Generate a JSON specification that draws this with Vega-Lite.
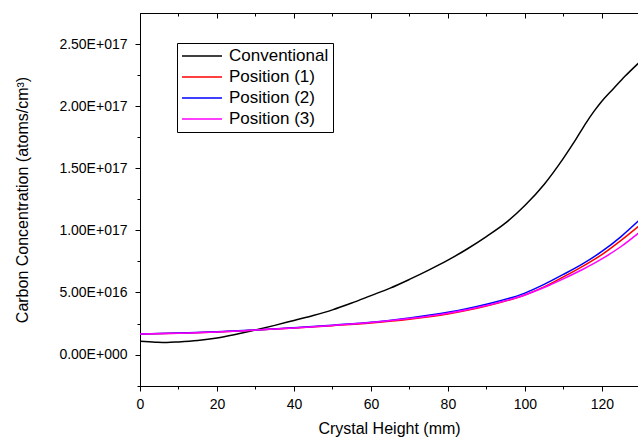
{
  "$schema": "https://vega.github.io/schema/vega-lite/v6.json",
  "width": 498,
  "height": 373,
  "autosize": {"type": "none"},
  "padding": {"left": 140, "top": 13, "right": 0, "bottom": 54},
  "background": "white",
  "config": {
    "view": {"stroke": "black", "strokeWidth": 1},
    "font": "Liberation Sans"
  },
  "data": {
    "values": [
      {"x": 0, "c": 1.07e16, "s": "Conventional"},
      {"x": 4, "c": 1.0e16, "s": "Conventional"},
      {"x": 7, "c": 0.97e16, "s": "Conventional"},
      {"x": 10, "c": 1.02e16, "s": "Conventional"},
      {"x": 15, "c": 1.14e16, "s": "Conventional"},
      {"x": 20, "c": 1.34e16, "s": "Conventional"},
      {"x": 25, "c": 1.64e16, "s": "Conventional"},
      {"x": 30, "c": 1.98e16, "s": "Conventional"},
      {"x": 35, "c": 2.35e16, "s": "Conventional"},
      {"x": 40, "c": 2.75e16, "s": "Conventional"},
      {"x": 45, "c": 3.15e16, "s": "Conventional"},
      {"x": 50, "c": 3.6e16, "s": "Conventional"},
      {"x": 55, "c": 4.15e16, "s": "Conventional"},
      {"x": 60, "c": 4.75e16, "s": "Conventional"},
      {"x": 65, "c": 5.35e16, "s": "Conventional"},
      {"x": 70, "c": 6.05e16, "s": "Conventional"},
      {"x": 75, "c": 6.8e16, "s": "Conventional"},
      {"x": 80, "c": 7.6e16, "s": "Conventional"},
      {"x": 85, "c": 8.5e16, "s": "Conventional"},
      {"x": 90, "c": 9.5e16, "s": "Conventional"},
      {"x": 95, "c": 10.6e16, "s": "Conventional"},
      {"x": 100, "c": 12.0e16, "s": "Conventional"},
      {"x": 105, "c": 13.7e16, "s": "Conventional"},
      {"x": 110, "c": 15.8e16, "s": "Conventional"},
      {"x": 113, "c": 17.2e16, "s": "Conventional"},
      {"x": 116, "c": 18.7e16, "s": "Conventional"},
      {"x": 118, "c": 19.6e16, "s": "Conventional"},
      {"x": 120, "c": 20.4e16, "s": "Conventional"},
      {"x": 123, "c": 21.4e16, "s": "Conventional"},
      {"x": 126, "c": 22.4e16, "s": "Conventional"},
      {"x": 130, "c": 23.6e16, "s": "Conventional"},

      {"x": 0, "c": 1.65e16, "s": "Position (1)"},
      {"x": 10, "c": 1.72e16, "s": "Position (1)"},
      {"x": 20, "c": 1.82e16, "s": "Position (1)"},
      {"x": 30, "c": 1.97e16, "s": "Position (1)"},
      {"x": 40, "c": 2.13e16, "s": "Position (1)"},
      {"x": 50, "c": 2.33e16, "s": "Position (1)"},
      {"x": 60, "c": 2.55e16, "s": "Position (1)"},
      {"x": 70, "c": 2.85e16, "s": "Position (1)"},
      {"x": 80, "c": 3.27e16, "s": "Position (1)"},
      {"x": 90, "c": 3.9e16, "s": "Position (1)"},
      {"x": 100, "c": 4.8e16, "s": "Position (1)"},
      {"x": 105, "c": 5.45e16, "s": "Position (1)"},
      {"x": 110, "c": 6.25e16, "s": "Position (1)"},
      {"x": 115, "c": 7.1e16, "s": "Position (1)"},
      {"x": 120, "c": 8.05e16, "s": "Position (1)"},
      {"x": 125, "c": 9.2e16, "s": "Position (1)"},
      {"x": 130, "c": 10.45e16, "s": "Position (1)"},

      {"x": 0, "c": 1.66e16, "s": "Position (2)"},
      {"x": 10, "c": 1.73e16, "s": "Position (2)"},
      {"x": 20, "c": 1.83e16, "s": "Position (2)"},
      {"x": 30, "c": 1.98e16, "s": "Position (2)"},
      {"x": 40, "c": 2.15e16, "s": "Position (2)"},
      {"x": 50, "c": 2.37e16, "s": "Position (2)"},
      {"x": 60, "c": 2.6e16, "s": "Position (2)"},
      {"x": 70, "c": 2.95e16, "s": "Position (2)"},
      {"x": 80, "c": 3.4e16, "s": "Position (2)"},
      {"x": 90, "c": 4.05e16, "s": "Position (2)"},
      {"x": 100, "c": 4.95e16, "s": "Position (2)"},
      {"x": 105, "c": 5.65e16, "s": "Position (2)"},
      {"x": 110, "c": 6.45e16, "s": "Position (2)"},
      {"x": 115, "c": 7.3e16, "s": "Position (2)"},
      {"x": 120, "c": 8.3e16, "s": "Position (2)"},
      {"x": 125, "c": 9.5e16, "s": "Position (2)"},
      {"x": 130, "c": 10.9e16, "s": "Position (2)"},

      {"x": 0, "c": 1.65e16, "s": "Position (3)"},
      {"x": 10, "c": 1.72e16, "s": "Position (3)"},
      {"x": 20, "c": 1.82e16, "s": "Position (3)"},
      {"x": 30, "c": 1.97e16, "s": "Position (3)"},
      {"x": 40, "c": 2.14e16, "s": "Position (3)"},
      {"x": 50, "c": 2.35e16, "s": "Position (3)"},
      {"x": 60, "c": 2.58e16, "s": "Position (3)"},
      {"x": 70, "c": 2.9e16, "s": "Position (3)"},
      {"x": 80, "c": 3.33e16, "s": "Position (3)"},
      {"x": 90, "c": 3.95e16, "s": "Position (3)"},
      {"x": 100, "c": 4.8e16, "s": "Position (3)"},
      {"x": 105, "c": 5.4e16, "s": "Position (3)"},
      {"x": 110, "c": 6.1e16, "s": "Position (3)"},
      {"x": 115, "c": 6.85e16, "s": "Position (3)"},
      {"x": 120, "c": 7.7e16, "s": "Position (3)"},
      {"x": 125, "c": 8.7e16, "s": "Position (3)"},
      {"x": 130, "c": 9.9e16, "s": "Position (3)"}
    ]
  },
  "layer": [
    {
      "mark": {"type": "line", "strokeWidth": 1.5, "interpolate": "monotone", "clip": true},
      "encoding": {
        "x": {
          "field": "x",
          "type": "quantitative",
          "scale": {"domain": [0, 129.4], "nice": false, "zero": false},
          "axis": {
            "title": "Crystal Height (mm)",
            "orient": "bottom",
            "values": [0, 10, 20, 30, 40, 50, 60, 70, 80, 90, 100, 110, 120],
            "labelExpr": "datum.value % 20 == 0 ? datum.label : ''",
            "tickSize": {"condition": {"test": "datum.value % 20 == 0", "value": 5}, "value": 3},
            "grid": false,
            "domainColor": "black",
            "tickColor": "black",
            "labelColor": "black",
            "labelFontSize": 14,
            "labelPadding": 6,
            "titleFontSize": 16,
            "titleFontWeight": "normal",
            "titleColor": "black",
            "titlePadding": 9,
            "labelFlush": false
          }
        },
        "y": {
          "field": "c",
          "type": "quantitative",
          "scale": {"domain": [-2.53e16, 2.75e17], "nice": false, "zero": false},
          "axis": {
            "title": "Carbon Concentration (atoms/cm³)",
            "values": [-2.5e16, 0, 2.5e16, 5e16, 7.5e16, 1e17, 1.25e17, 1.5e17, 1.75e17, 2e17, 2.25e17, 2.5e17],
            "labelExpr": "datum.value < 0 || (datum.value / 5e16) != round(datum.value / 5e16) ? '' : (datum.value == 0 ? '0.00E+000' : replace(format(datum.value, '.2e'), 'e+', 'E+0'))",
            "tickSize": {"condition": {"test": "datum.value >= 0 && (datum.value / 5e16) == round(datum.value / 5e16)", "value": 5}, "value": 3},
            "grid": false,
            "domainColor": "black",
            "tickColor": "black",
            "labelColor": "black",
            "labelFontSize": 14,
            "labelPadding": 8,
            "titleFontSize": 16,
            "titleFontWeight": "normal",
            "titleColor": "black",
            "titlePadding": 28
          }
        },
        "color": {
          "field": "s",
          "type": "nominal",
          "scale": {
            "domain": ["Conventional", "Position (1)", "Position (2)", "Position (3)"],
            "range": ["#000000", "#ff0000", "#0000ff", "#ff00ff"]
          },
          "legend": {
            "title": null,
            "orient": "none",
            "legendX": 37,
            "legendY": 30,
            "symbolType": "stroke",
            "symbolSize": 1600,
            "symbolStrokeWidth": 1.5,
            "labelFontSize": 17,
            "labelColor": "black",
            "clipHeight": 18,
            "rowPadding": 3,
            "padding": 4,
            "strokeColor": "black",
            "fillColor": "white",
            "labelOffset": 6
          }
        }
      }
    },
    {
      "mark": {"type": "rule", "opacity": 0},
      "encoding": {
        "x": {
          "field": "x",
          "type": "quantitative",
          "axis": {
            "orient": "top",
            "title": null,
            "labels": false,
            "values": [0, 10, 20, 30, 40, 50, 60, 70, 80, 90, 100, 110, 120],
            "tickSize": {"condition": {"test": "datum.value % 20 == 0", "value": -5}, "value": -3},
            "grid": false,
            "domainColor": "black",
            "tickColor": "black"
          }
        }
      }
    }
  ]
}
